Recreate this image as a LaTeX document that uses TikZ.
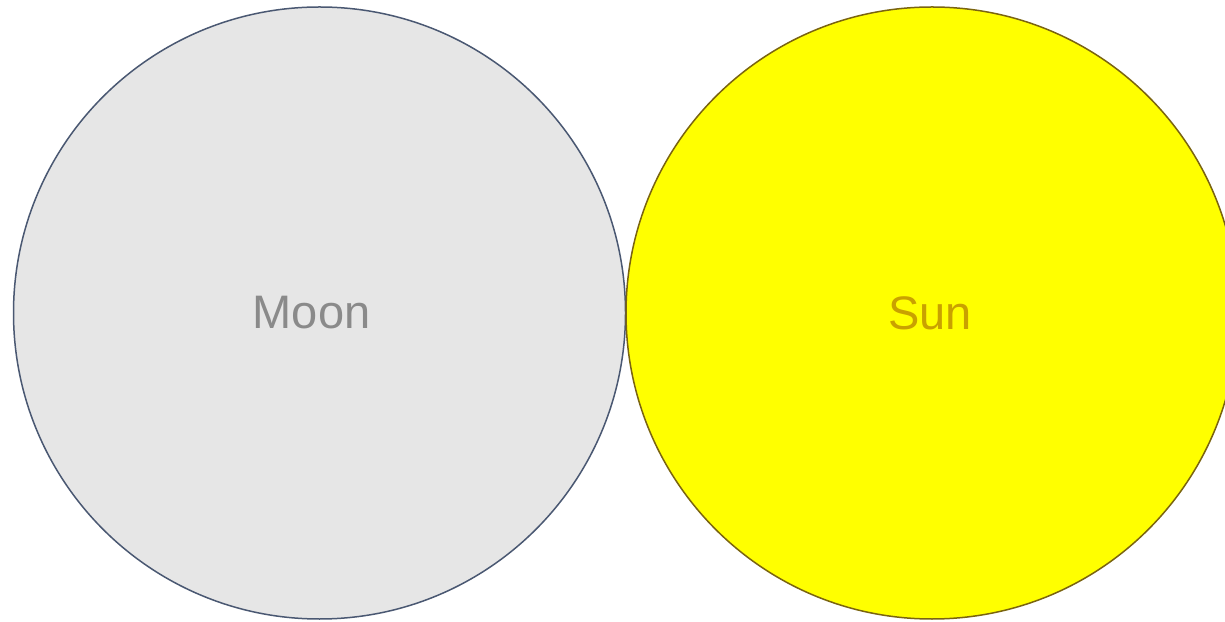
\documentclass[tikz,border=0pt]{standalone}
\usepackage{fontspec}
\setmainfont{Liberation Sans}
\definecolor{moonfill}{HTML}{E6E6E6}
\definecolor{moonline}{HTML}{4A5872}
\definecolor{moontext}{HTML}{8A8A8A}
\definecolor{sunfill}{HTML}{FFFF00}
\definecolor{sunline}{HTML}{7A6410}
\definecolor{suntext}{HTML}{C9A100}
\begin{document}
\begin{tikzpicture}[x=1pt,y=1pt,
  body/.style={circle,minimum size=612pt,inner sep=0pt,line width=1.5pt},
  label/.style={font=\fontsize{47}{47}\selectfont,inner sep=0pt}]
\useasboundingbox (0,0) rectangle (1225,621);
\clip (0,0) rectangle (1225,621);
\fill[white] (0,0) rectangle (1225,621);
\node[body,draw=moonline,fill=moonfill] (moon) at (319.5,308) {};
\node[body,draw=sunline,fill=sunfill] (sun) at (932,308) {};
\node[label,text=moontext] (moonlabel) at ([xshift=-8pt]moon.center) {Moon};
\node[label,text=suntext] (sunlabel) at ([xshift=-2pt]sun.center) {Sun};
\end{tikzpicture}
\end{document}
